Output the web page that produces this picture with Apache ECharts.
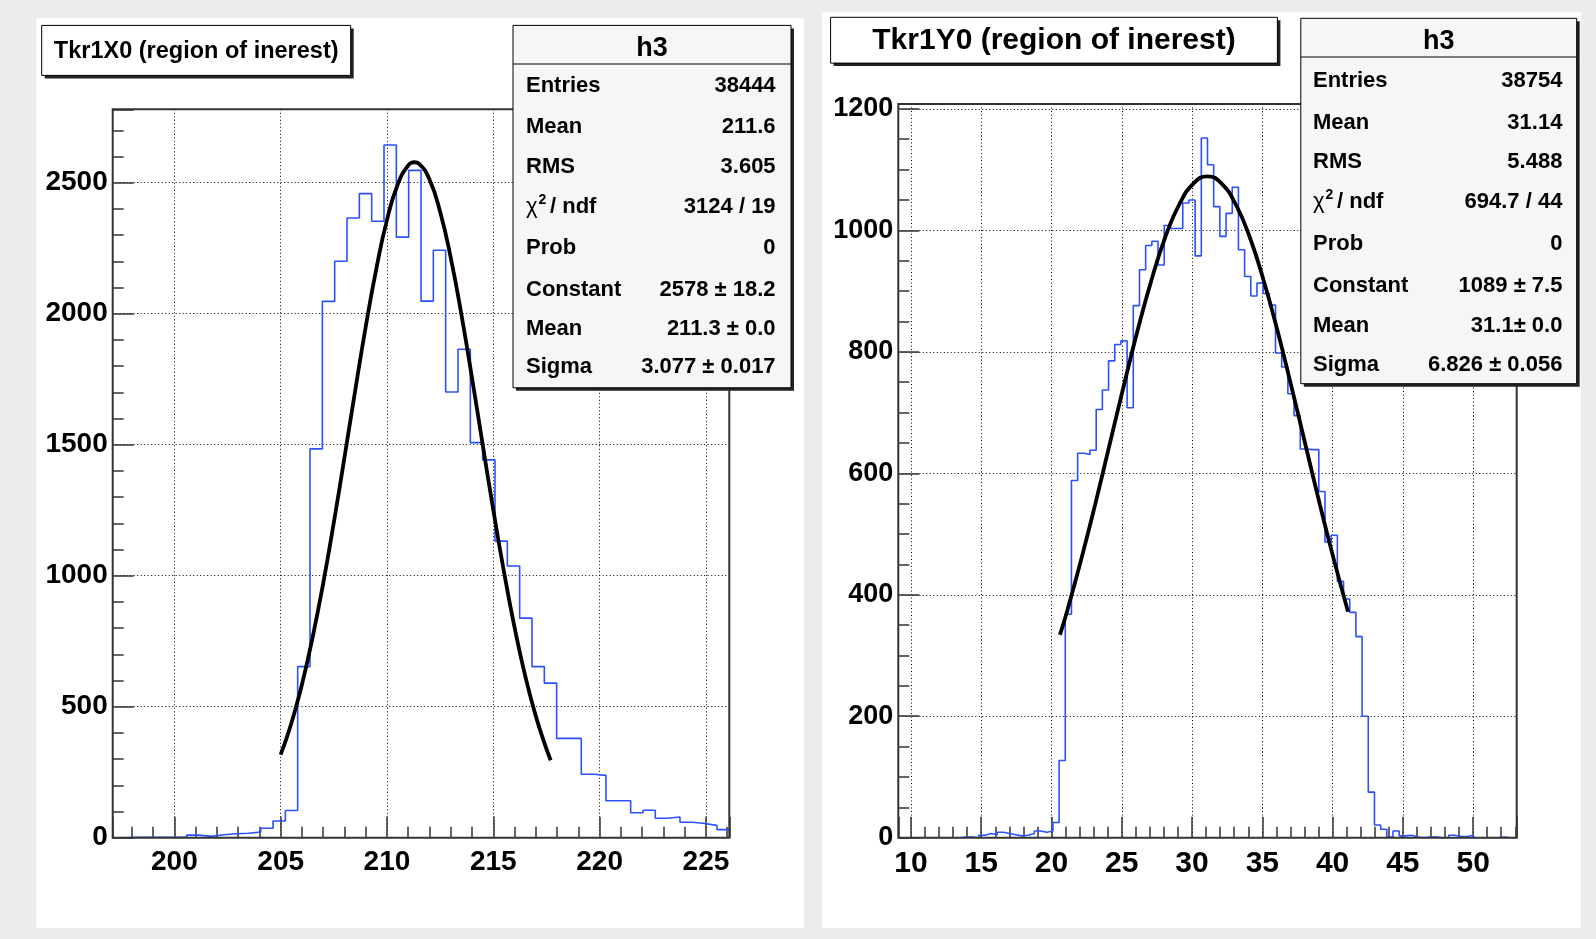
<!DOCTYPE html>
<html>
<head>
<meta charset="utf-8">
<script src="https://cdn.jsdelivr.net/npm/echarts@6/dist/echarts.min.js"></script>
<style>
  html, body { margin: 0; background: #ececec; }
  #chart { width: 1596px; height: 939px; }
</style>
</head>
<body>
<div id="chart"></div>
<script>
// Tkr1X0 histogram: 50 bins starting at 197.1, width 0.58
const leftBinStart = 197.1;
const leftBinWidth = 0.58;
const leftCounts = [0, 2, 2, 2, 2, 2, 10, 5, 11, 15, 17, 22, 36, 64, 104, 653, 1484, 2047, 2200, 2365,
  2458, 2353, 2644, 2292, 2547, 2048, 2242, 1701, 1864, 1508, 1442, 1132, 1037, 838, 653, 590, 379, 379, 242, 238,
  141, 141, 95, 105, 74, 79, 59, 54, 47, 31];

// Tkr1Y0 histogram: 100 bins starting at 9.1, width 0.44
const rightBinStart = 9.1;
const rightBinWidth = 0.44;
const rightCounts = [0, 0, 0, 0, 0, 0, 0, 0, 0, 0,
  1, 1, 0, 4, 7, 5, 9, 7, 5, 3,
  4, 7, 11, 9, 11, 25, 127, 368, 588, 633,
  631, 638, 705, 737, 785, 812, 818, 708, 876, 935,
  975, 982, 943, 1008, 1003, 1003, 1045, 1050, 958, 1152,
  1108, 1039, 990, 1028, 1071, 968, 924, 892, 913, 896,
  877, 798, 775, 731, 695, 640, 639, 639, 570, 487,
  498, 422, 393, 371, 331, 200, 75, 21, 14, 1,
  11, 3, 4, 1, 0, 1, 1, 0, 0, 4,
  2, 2, 4, 0, 0, 0, 0, 1, 0, 0];

// fit curves, points
const leftFitX = [205.0, 205.5, 206.0, 206.5, 207.0, 207.5, 208.0, 208.5, 209.0, 209.5, 210.0, 210.5, 211.0,
  211.3, 211.5, 212.0, 212.5, 213.0, 213.5, 214.0, 214.5, 215.0, 215.5, 216.0, 216.5, 217.0, 217.5, 217.7];
const leftFitY = [317, 436, 585, 764, 971, 1203, 1451, 1704, 1950, 2172, 2358, 2492, 2566,
  2578, 2573, 2512, 2389, 2213, 1997, 1754, 1501, 1251, 1016, 803, 618, 464, 339, 296];
const rightFitX = [20.6, 21.1, 22.1, 23.1, 24.1, 25.1, 26.1, 27.1, 28.1, 29.1, 30.1, 31.1,
  32.1, 33.1, 34.1, 35.1, 36.1, 37.1, 38.1, 39.1, 40.1, 41.1];
const rightFitY = [334, 372, 457, 548, 644, 740, 833, 917, 989, 1043, 1077, 1089,
  1077, 1043, 989, 917, 833, 740, 644, 548, 457, 372];

const statLabels = ["Entries", "Mean", "RMS", "", "Prob", "Constant", "Mean", "Sigma"];
const leftStatValues = ["38444", "211.6", "3.605", "3124 / 19", "0", "2578 \u00b1 18.2", "211.3 \u00b1 0.0", "3.077 \u00b1 0.017"];
const rightStatValues = ["38754", "31.14", "5.488", "694.7 / 44", "0", "1089 \u00b1 7.5", "31.1\u00b1 0.0", "6.826 \u00b1 0.056"];

const FONT = '"Liberation Sans", Arial, sans-serif';

function stepData(start, width, counts) {
  const d = counts.map((v, i) => [start + i * width, v]);
  d.push([start + counts.length * width, counts[counts.length - 1]]);
  return d;
}
function pairs(xs, ys) {
  return xs.map((x, i) => [x, ys[i]]);
}

const gridLine = { show: true, lineStyle: { color: "#000", type: [1, 2.5], width: 1 } };

function xAxisOf(gridIndex, min, max, fontSize) {
  return {
    type: "value", gridIndex: gridIndex, min: min, max: max,
    minInterval: 5, maxInterval: 5, splitNumber: 6,
    axisLine: { show: false },
    axisTick: { show: true, inside: true, length: 21, lineStyle: { color: "#333", width: 1.5 } },
    minorTick: { show: true, splitNumber: 5, length: 11, lineStyle: { color: "#333", width: 1.5 } },
    splitLine: gridLine,
    axisLabel: {
      showMinLabel: false, showMaxLabel: false, margin: 11,
      color: "#000", fontFamily: FONT, fontWeight: "bold", fontSize: fontSize,
      formatter: v => String(v)
    }
  };
}
function yAxisOf(gridIndex, max, interval, minorSplit, fontSize) {
  return {
    type: "value", gridIndex: gridIndex, min: 0, max: max, interval: interval,
    axisLine: { show: false },
    axisTick: { show: true, inside: true, length: 21, lineStyle: { color: "#333", width: 1.5 } },
    minorTick: { show: true, splitNumber: minorSplit, length: 11, lineStyle: { color: "#333", width: 1.5 } },
    splitLine: gridLine,
    axisLabel: {
      showMinLabel: true, showMaxLabel: false, margin: 5,
      color: "#000", fontFamily: FONT, fontWeight: "bold", fontSize: fontSize,
      formatter: v => String(v)
    }
  };
}

// boxes drawn on top of the plots
function titleBox(x, y, w, h, text, size) {
  return [
    { type: "rect", z: 60, shape: { x: x + 3, y: y + 3, width: w, height: h }, style: { fill: "#222" } },
    { type: "rect", z: 61, shape: { x: x, y: y, width: w, height: h }, style: { fill: "#fff", stroke: "#000", lineWidth: 1 } },
    { type: "text", z: 62, style: { text: text, x: x + w / 2, y: y + h / 2 + 1, font: "bold " + size + "px " + FONT,
      fill: "#000", align: "center", verticalAlign: "middle", textAlign: "center", textVerticalAlign: "middle" } }
  ];
}
function statsBox(b, values) {
  const els = [
    { type: "rect", z: 60, shape: { x: b.x + 3, y: b.y + 3, width: b.w, height: b.h }, style: { fill: "#222" } },
    { type: "rect", z: 61, shape: { x: b.x, y: b.y, width: b.w, height: b.h }, style: { fill: "#f6f6f6", stroke: "#000", lineWidth: 1 } },
    { type: "line", z: 62, shape: { x1: b.x, y1: b.headerY, x2: b.x + b.w, y2: b.headerY }, style: { stroke: "#000", lineWidth: 1 } },
    { type: "text", z: 62, style: { text: "h3", x: b.x + b.w / 2, y: (b.y + b.headerY) / 2 + 4, font: "bold 27px " + FONT,
      fill: "#000", align: "center", verticalAlign: "middle", textAlign: "center", textVerticalAlign: "middle" } }
  ];
  const font = "bold 22px " + FONT;
  for (let i = 0; i < statLabels.length; i++) {
    const ry = b.rows[i];
    if (i === 3) {
      els.push({ type: "text", z: 62, style: { text: "\u03c7", x: b.labelX, y: ry, font: "22px " + FONT, fill: "#000",
        align: "left", verticalAlign: "middle", textAlign: "left", textVerticalAlign: "middle" } });
      els.push({ type: "text", z: 62, style: { text: "2", x: b.labelX + 12.5, y: ry - 7, font: "bold 14px " + FONT, fill: "#000",
        align: "left", verticalAlign: "middle", textAlign: "left", textVerticalAlign: "middle" } });
      els.push({ type: "text", z: 62, style: { text: "/ ndf", x: b.labelX + 24, y: ry, font: font, fill: "#000",
        align: "left", verticalAlign: "middle", textAlign: "left", textVerticalAlign: "middle" } });
    } else {
      els.push({ type: "text", z: 62, style: { text: statLabels[i], x: b.labelX, y: ry, font: font, fill: "#000",
        align: "left", verticalAlign: "middle", textAlign: "left", textVerticalAlign: "middle" } });
    }
    els.push({ type: "text", z: 62, style: { text: values[i], x: b.valueX, y: ry, font: font, fill: "#000",
      align: "right", verticalAlign: "middle", textAlign: "right", textVerticalAlign: "middle" } });
  }
  return els;
}

const leftGrid = { left: 112.7, top: 109.3, width: 616.6, height: 728.4 };
const rightGrid = { left: 898.3, top: 104, width: 618.4, height: 733.7 };

const graphics = [
  { type: "rect", z: -10, shape: { x: 36.6, y: 18.3, width: 767.4, height: 909.7 }, style: { fill: "#fff" } },
  { type: "rect", z: -10, shape: { x: 822, y: 12.2, width: 759, height: 915.8 }, style: { fill: "#fff" } },
  { type: "rect", z: 50, shape: { x: leftGrid.left, y: leftGrid.top, width: leftGrid.width, height: leftGrid.height },
    style: { fill: null, stroke: "#333", lineWidth: 2 } },
  { type: "rect", z: 50, shape: { x: rightGrid.left, y: rightGrid.top, width: rightGrid.width, height: rightGrid.height },
    style: { fill: null, stroke: "#333", lineWidth: 2 } }
].concat(
  titleBox(41.7, 25.4, 309, 50, "Tkr1X0 (region of inerest)", 23.5),
  titleBox(830.6, 17.3, 446.8, 45.8, "Tkr1Y0 (region of inerest)", 30),
  statsBox({ x: 513, y: 25.4, w: 278, h: 362.4, headerY: 64, labelX: 526, valueX: 775.6,
    rows: [86, 126.7, 167.4, 207.1, 247.8, 289.5, 329.2, 366.9] }, leftStatValues),
  statsBox({ x: 1300.8, y: 18.3, w: 275.9, h: 365.4, headerY: 57, labelX: 1313, valueX: 1562.4,
    rows: [80.9, 122.6, 162.3, 202, 243.7, 285.5, 326.2, 364.9] }, rightStatValues)
);

const chart = echarts.init(document.getElementById("chart"), null, { renderer: "canvas" });
chart.setOption({
  animation: false,
  backgroundColor: "#ececec",
  grid: [leftGrid, rightGrid],
  xAxis: [xAxisOf(0, 197.1, 226.1, 28), xAxisOf(1, 9.1, 53.1, 30)],
  yAxis: [yAxisOf(0, 2780, 500, 5, 28), yAxisOf(1, 1208, 200, 4, 27)],
  series: [
    { type: "line", xAxisIndex: 0, yAxisIndex: 0, step: "end", showSymbol: false, z: 3,
      lineStyle: { color: "#2b50ff", width: 1.6 }, data: stepData(leftBinStart, leftBinWidth, leftCounts) },
    { type: "line", xAxisIndex: 0, yAxisIndex: 0, smooth: true, showSymbol: false, z: 4,
      lineStyle: { color: "#000", width: 3.8 }, data: pairs(leftFitX, leftFitY) },
    { type: "line", xAxisIndex: 1, yAxisIndex: 1, step: "end", showSymbol: false, z: 3,
      lineStyle: { color: "#2b50ff", width: 1.6 }, data: stepData(rightBinStart, rightBinWidth, rightCounts) },
    { type: "line", xAxisIndex: 1, yAxisIndex: 1, smooth: true, showSymbol: false, z: 4,
      lineStyle: { color: "#000", width: 3.8 }, data: pairs(rightFitX, rightFitY) }
  ],
  graphic: graphics
});
</script>
</body>
</html>
